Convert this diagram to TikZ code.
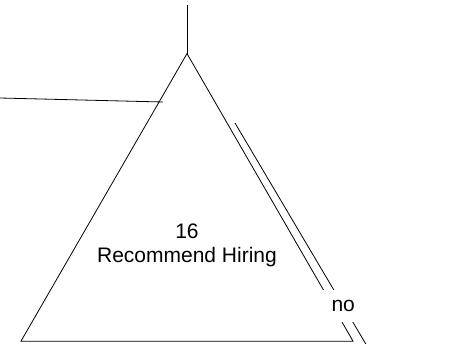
\documentclass[tikz,border=0pt]{standalone}
\usepackage{fontspec}
\setmainfont{Liberation Sans}
\usetikzlibrary{shapes.geometric}

\begin{document}
\begin{tikzpicture}[
    x=1pt, y=-1pt,
    leaf/.style={regular polygon, regular polygon sides=3, draw=black,
                 line width=0.8pt, minimum size=383.4pt, inner sep=0pt,
                 outer sep=0pt},
    leaftext/.style={align=center, font=\fontsize{21}{24}\selectfont},
    link/.style={draw=black, line width=0.8pt},
    answer/.style={fill=white, inner sep=10pt,
                   font=\fontsize{21}{24}\selectfont}
]
    \useasboundingbox (0,0) rectangle (455,343);

    \node[leaf, label={[leaftext]center:16\\Recommend Hiring}] (leaf16)
        at (187,245.3) {};

    \coordinate (fromtop) at (187,5);
    \coordinate (fromleft) at (0,98);
    \coordinate (leftend) at (163,102);
    \coordinate (nostart) at (235,123);
    \coordinate (noend) at (367,346);

    \draw[link] (fromtop) -- (leaf16.corner 1);
    \draw[link] (fromleft) -- (leftend);
    \draw[link] (nostart) -- (noend) node[answer, pos=0.82] (nolabel) {no};
\end{tikzpicture}
\end{document}
